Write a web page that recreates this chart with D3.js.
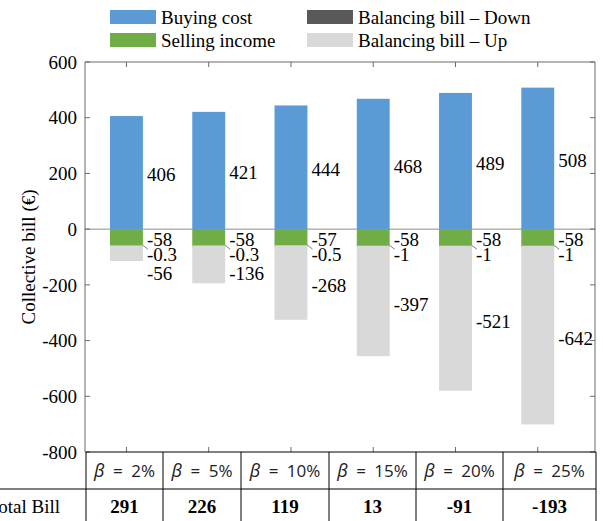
<!DOCTYPE html>
<html>
<head>
<meta charset="utf-8">
<script src="https://cdn.jsdelivr.net/npm/d3@7"></script>
<style>
  body { margin: 0; background: #fff; }
  svg { display: block; }
  svg text { font-family: "Liberation Serif", "Times New Roman", Times, serif; }
  svg text.sans { font-family: "Open Sans", "Liberation Sans", sans-serif; }
</style>
</head>
<body>
<div id="chart"></div>
<script>
// dados do gráfico
const categories = ["2%", "5%", "10%", "15%", "20%", "25%"];
const buyingCost = [406, 421, 444, 468, 489, 508];
const sellingIncome = [-58, -58, -57, -58, -58, -58];
const balancingDown = [-0.3, -0.3, -0.5, -1, -1, -1];
const balancingUp = [-56, -136, -268, -397, -521, -642];
const totalBill = [291, 226, 119, 13, -91, -193];
const yTicks = [600, 400, 200, 0, -200, -400, -600, -800];

const seriesNames = ["Buying cost", "Selling income", "Balancing bill – Down", "Balancing bill – Up"];
const colors = ["#5B9BD5", "#70AD47", "#595959", "#D9D9D9"];

const W = 603, H = 521;

const svg = d3.select("#chart").append("svg")
    .attr("width", W).attr("height", H);

// área do gráfico
const plot = { left: 85, right: 595, top: 62, bottom: 452 };

const y = d3.scaleLinear().domain([-800, 600]).range([plot.bottom, plot.top]);
const x = d3.scaleBand().domain(categories)
    .range([plot.left, plot.right])
    .paddingInner(0.6).paddingOuter(0.4).align(0.38);

const axisColor = "#6b6b6b";

// linha do zero
svg.append("line")
    .attr("x1", plot.left).attr("x2", plot.right)
    .attr("y1", y(0)).attr("y2", y(0))
    .attr("stroke", "#8c8c8c").attr("stroke-width", 1);

// segmentos empilhados
const segs = [];
categories.forEach((c, i) => {
    segs.push({ c, s: 0, y0: 0, y1: buyingCost[i] });
    let base = 0;
    [sellingIncome[i], balancingDown[i], balancingUp[i]].forEach((v, k) => {
        segs.push({ c, s: k + 1, y0: base, y1: base + v });
        base += v;
    });
});

svg.append("g").selectAll("rect").data(segs).join("rect")
    .attr("x", d => x(d.c))
    .attr("width", x.bandwidth())
    .attr("y", d => y(Math.max(d.y0, d.y1)))
    .attr("height", d => Math.max(d.s === 2 ? 1.5 : 0, Math.abs(y(d.y0) - y(d.y1))))
    .attr("fill", d => colors[d.s]);

// rótulos dos dados
const labels = svg.append("g").attr("font-size", 19).attr("fill", "#000");

categories.forEach((c, i) => {
    const lx = x(c) + x.bandwidth() + 4;
    const right = x(c) + x.bandwidth();
    labels.append("text").attr("x", lx).attr("y", y(buyingCost[i] / 2) + 2)
        .attr("dy", "0.35em").text(buyingCost[i]);

    const s = sellingIncome[i], dn = balancingDown[i], up = balancingUp[i];
    const ySell = y(s / 2) + 2;
    labels.append("text").attr("x", lx).attr("y", ySell)
        .attr("dy", "0.35em").text(s);

    const yDownSeg = y(s + dn / 2);
    const yDown = Math.max(yDownSeg, ySell + 15);
    labels.append("text").attr("x", lx).attr("y", yDown)
        .attr("dy", "0.35em").text(dn);
    // linha guia
    svg.append("line")
        .attr("x1", right).attr("y1", yDownSeg)
        .attr("x2", lx + 1).attr("y2", yDown - 5)
        .attr("stroke", "#7f7f7f").attr("stroke-width", 1);

    const yUp = Math.max(y(s + dn + up / 2) + 3, yDown + 19);
    labels.append("text").attr("x", lx).attr("y", yUp)
        .attr("dy", "0.35em").text(up);
});

// eixos (moldura)
const frame = svg.append("g").attr("stroke", axisColor).attr("stroke-width", 1);
frame.append("line").attr("x1", plot.left).attr("x2", plot.left)
    .attr("y1", plot.top).attr("y2", plot.bottom);
frame.append("line").attr("x1", plot.right).attr("x2", plot.right)
    .attr("y1", plot.top).attr("y2", plot.bottom);
frame.append("line").attr("x1", plot.left).attr("x2", plot.right)
    .attr("y1", plot.top).attr("y2", plot.top);

// marcas do eixo y (esquerda e direita, para dentro)
yTicks.forEach(t => {
    frame.append("line").attr("x1", plot.left).attr("x2", plot.left + 5)
        .attr("y1", y(t)).attr("y2", y(t));
    frame.append("line").attr("x1", plot.right - 5).attr("x2", plot.right)
        .attr("y1", y(t)).attr("y2", y(t));
});
// marcas do eixo x (topo e base)
categories.forEach(c => {
    const cx = x(c) + x.bandwidth() / 2;
    frame.append("line").attr("x1", cx).attr("x2", cx)
        .attr("y1", plot.top).attr("y2", plot.top + 5);
    frame.append("line").attr("x1", cx).attr("x2", cx)
        .attr("y1", plot.bottom - 5).attr("y2", plot.bottom);
});

svg.append("g").selectAll("text").data(yTicks).join("text")
    .attr("x", plot.left - 8).attr("y", d => y(d)).attr("dy", "0.35em")
    .attr("text-anchor", "end")
    .attr("font-size", 19).attr("fill", "#000")
    .text(d => d);

svg.append("text")
    .attr("transform", `translate(28,${(plot.top + plot.bottom) / 2}) rotate(-90)`)
    .attr("text-anchor", "middle").attr("dy", "0.35em")
    .attr("font-size", 19)
    .text("Collective bill (€)");

// legenda
const legendPos = [[110, 10], [110, 33], [307, 10], [307, 33]];
const legend = svg.append("g");
seriesNames.forEach((n, k) => {
    const [lx, ly] = legendPos[k];
    legend.append("rect").attr("x", lx).attr("y", ly)
        .attr("width", 46).attr("height", 14).attr("fill", colors[k]);
    legend.append("text").attr("x", lx + 51).attr("y", ly + 7).attr("dy", "0.35em")
        .attr("font-size", 19).text(n);
});

// tabela abaixo do gráfico
const colEdges = [86, 163, 241, 329, 416, 503, 596];
const rowTop = 452, rowMid = 489, rowBot = 530;
const table = svg.append("g").attr("stroke", "#000").attr("stroke-width", 1);
table.append("line").attr("x1", colEdges[0]).attr("x2", colEdges[6])
    .attr("y1", rowTop).attr("y2", rowTop);
table.append("line").attr("x1", 0).attr("x2", colEdges[6])
    .attr("y1", rowMid).attr("y2", rowMid);
colEdges.forEach(e => {
    table.append("line").attr("x1", e).attr("x2", e)
        .attr("y1", rowTop).attr("y2", rowBot);
});

categories.forEach((c, i) => {
    const cx = (colEdges[i] + colEdges[i + 1]) / 2;
    const t = svg.append("text").attr("class", "sans")
        .attr("x", cx).attr("y", (rowTop + rowMid) / 2 + 1)
        .attr("dy", "0.35em").attr("text-anchor", "middle")
        .attr("font-size", 17).attr("fill", "#222");
    t.append("tspan").attr("font-style", "italic")
        .attr("font-size", 18).text("β");
    t.append("tspan").text("\u2002=\u2002" + c);

    svg.append("text").attr("x", cx).attr("y", (rowMid + 521) / 2 + 1)
        .attr("dy", "0.35em").attr("text-anchor", "middle")
        .attr("font-weight", "bold")
        .attr("font-size", 19).text(totalBill[i]);
});

svg.append("text").attr("x", 60).attr("y", (rowMid + 521) / 2 + 1)
    .attr("dy", "0.35em").attr("text-anchor", "end")
    .attr("font-size", 19).text("Total Bill");
</script>
</body>
</html>
